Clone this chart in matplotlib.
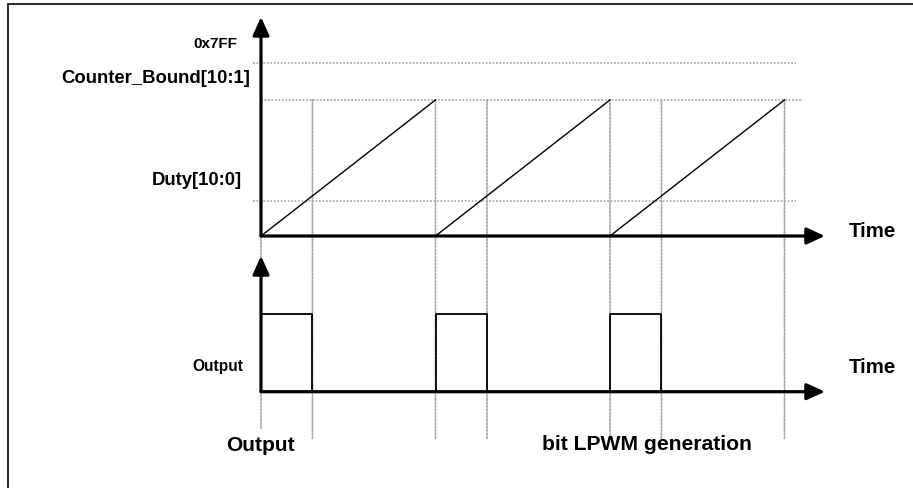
import matplotlib
matplotlib.use('Agg')
import matplotlib.pyplot as plt
from matplotlib.patches import Rectangle, ConnectionPatch

plt.rcParams['font.family'] = ['Liberation Sans', 'DejaVu Sans']
plt.rcParams['font.weight'] = 'bold'

# counter levels (top panel)
max_count = 0x7FF
counter_bound = 1610
duty_level = 420
level_labels = ['0x7FF', 'Counter_Bound[10:1]', 'Duty[10:0]']

# time axis: one ramp per period, output high until the duty crossing
period = 10.0
period_starts = [0.0, 10.0, 20.0]
duty_time = 2.95
output_high = 1
output_low = 0

W, H, DPI = 913, 489, 100
fig = plt.figure(figsize=(W / DPI, H / DPI), dpi=DPI)

# pixel anchors used to lay out the two panels
x0_px, px_per_t = 261.0, 17.45
top_zero_px, px_per_count = 237.0, 173.0 / max_count
bot_zero_px, px_per_out = 392.7, 77.7

top = fig.add_axes([0, 0, 1, 1])
bot = fig.add_axes([0, 0, 1, 1])
for ax in (top, bot):
    ax.set_xlim(-x0_px / px_per_t, (W - x0_px) / px_per_t)
    ax.axis('off')
    ax.patch.set_alpha(0)
top.set_ylim((top_zero_px - H) / px_per_count, top_zero_px / px_per_count)
bot.set_ylim((bot_zero_px - H) / px_per_out, bot_zero_px / px_per_out)

t_end = period_starts[-1] + period
t_tip = (825 - x0_px) / px_per_t
dot = dict(color='#a8a8a8', lw=1.25, linestyle=(0, (1, 1)))

# horizontal reference lines
top.plot([-0.46, t_end + 0.66], [max_count] * 2, **dot)
top.plot([0, t_end + 1.06], [counter_bound] * 2, **dot)
top.plot([-0.46, t_end + 0.66], [duty_level] * 2, **dot)

# vertical reference lines through both panels
marks = [0.0]
for s in period_starts:
    marks += [s + duty_time, s + period]
for t in marks:
    low = -0.48 if t == 0 else -0.62
    cp = ConnectionPatch(xyA=(t, counter_bound), coordsA=top.transData,
                         xyB=(t, low), coordsB=bot.transData, zorder=-1,
                         **dot)
    fig.add_artist(cp)

# sawtooth counter
for s in period_starts:
    top.plot([s, s + period], [0, counter_bound], color='k', lw=1.0)

# output pulses
for s in period_starts:
    bot.plot([s, s, s + duty_time, s + duty_time],
             [output_low, output_high, output_high, output_low],
             color='k', lw=1.3)

# axes with arrows
arr = dict(arrowstyle='-|>,head_length=0.55,head_width=0.25', lw=2.3,
           color='k', mutation_scale=20, shrinkA=0, shrinkB=0)
top.annotate('', xy=(0, (top_zero_px - 18) / px_per_count), xytext=(0, 0),
             arrowprops=arr)
top.annotate('', xy=(t_tip, 0), xytext=(0, 0), arrowprops=arr)
bot.annotate('', xy=(0, (bot_zero_px - 257) / px_per_out), xytext=(0, 0),
             arrowprops=arr)
bot.annotate('', xy=(t_tip, 0), xytext=(0, 0), arrowprops=arr)

# level labels, sitting above their lines
k = 0.72  # px -> pt
for lab, lev, dx, dy, fs in zip(level_labels,
                                [max_count, counter_bound, duty_level],
                                [24, 11, 18.7], [16.3, 17.7, 16.7],
                                [11, 13.3, 13.3]):
    top.annotate(lab, xy=(0, lev), xytext=(-dx * k, dy * k),
                 textcoords='offset points', ha='right', va='baseline',
                 fontsize=fs, fontweight='bold')
bot.annotate('Output', xy=(0, 0), xytext=(-17.7 * k, 21.7 * k),
             textcoords='offset points', ha='right', va='baseline',
             fontsize=11.2, fontweight='bold')

def ftext(x, y, s, fs, ha='left'):
    fig.text(x / W, 1 - y / H, s, fontsize=fs, ha=ha, va='baseline',
             fontweight='bold')

ftext(848.3, 236.7, 'Time', 14.7)
ftext(848.3, 373.3, 'Time', 14.7)
ftext(225.7, 451, 'Output', 15.1)
ftext(541.7, 450, 'bit LPWM generation', 15.2)

# outer frame (runs off the right and bottom edges)
fig.add_artist(Rectangle((7.5 / W, -0.2), 1.5, 1.2 - 4.5 / H,
                         transform=fig.transFigure, fill=False,
                         edgecolor='#333333', lw=1.5))

fig.savefig('out.png', dpi=DPI)
